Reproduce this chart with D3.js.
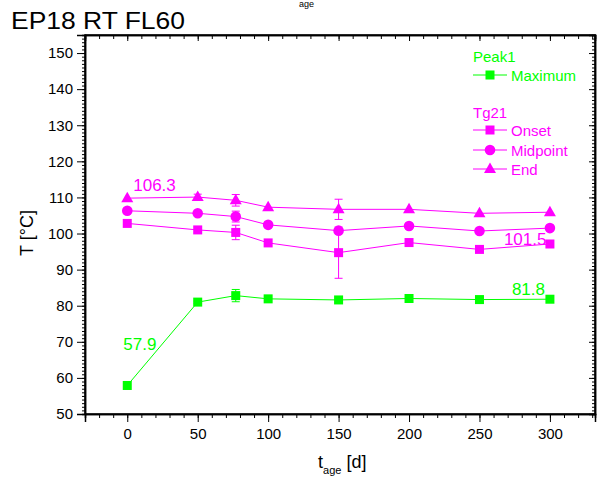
<!DOCTYPE html>
<html><head><meta charset="utf-8">
<script src="https://cdn.jsdelivr.net/npm/d3@7"></script>
<style>body{margin:0;background:#fff}svg{display:block;font-family:"Liberation Sans",Arial,sans-serif}</style>
</head><body>
<svg id="c" width="600" height="477"></svg>
<script>
const days = [0, 50, 77, 100, 150, 200, 250, 300];
const maximum = [57.9, 81.0, 82.8, 81.9, 81.6, 82.0, 81.7, 81.8];
const maximumErr = [0, 0.3, 1.7, 0, 0, 0, 0, 0];
const onset = [102.8, 101.0, 100.3, 97.4, 94.7, 97.5, 95.6, 97.1];
const onsetErr = [0, 0, 2.0, 0, 7.1, 0, 0, 0];
const midpoint = [106.3, 105.6, 104.7, 102.4, 100.8, 102.1, 100.7, 101.5];
const midpointErr = [0, 0, 1.5, 0, 0, 0, 0, 0];
const endVals = [109.8, 110.1, 109.2, 107.3, 106.7, 106.7, 105.6, 105.9];
const endErr = [0, 0.8, 1.6, 0, 2.8, 0, 0, 0];
const xTicks = [0, 50, 100, 150, 200, 250, 300];
const yTicks = [50, 60, 70, 80, 90, 100, 110, 120, 130, 140, 150];

const GREEN = "#00ff00", MAG = "#ff00ff";
const L = 85, R = 595, T = 35, B = 414;
const svg = d3.select("#c");
const x = d3.scaleLinear().domain([-30, 332]).range([L, R]);
const y = d3.scaleLinear().domain([50, 155]).range([B, T]);

// axes
const minorX = d3.range(-30, 331, 10);
const minorY = d3.range(50, 156, 1);
const bottom = d3.axisBottom(x).tickValues(xTicks).tickSize(8).tickFormat(d3.format("d"));
svg.append("g").attr("transform", `translate(0,${B})`).call(d3.axisBottom(x).tickValues(minorX).tickSize(4).tickFormat(""));
const gb = svg.append("g").attr("transform", `translate(0,${B})`).call(bottom);
gb.selectAll("text").attr("font-size", 15).attr("dy", "0.9em").attr("y", 11);
svg.append("g").attr("transform", `translate(0,${T})`).call(d3.axisBottom(x).tickValues(minorX).tickSize(4).tickFormat(""));
svg.append("g").attr("transform", `translate(0,${T})`).call(d3.axisBottom(x).tickValues(xTicks).tickSize(6).tickFormat(""));
svg.append("g").attr("transform", `translate(${L},0)`).call(d3.axisLeft(y).tickValues(minorY).tickSize(3).tickFormat(""));
const gl = svg.append("g").attr("transform", `translate(${L},0)`).call(d3.axisLeft(y).tickValues(yTicks).tickSize(8).tickFormat(d3.format("d")));
gl.selectAll("text").attr("font-size", 15).attr("x", -12);
svg.append("g").attr("transform", `translate(${R},0)`).call(d3.axisLeft(y).tickValues(minorY).tickSize(3).tickFormat(""));
svg.append("g").attr("transform", `translate(${R},0)`).call(d3.axisLeft(y).tickValues(yTicks).tickSize(6).tickFormat(""));
svg.selectAll(".domain").attr("stroke", "#000").attr("stroke-width", 1.5);
svg.selectAll(".tick line").attr("stroke", "#000");
svg.selectAll(".tick text").attr("fill", "#000");
svg.append("rect").attr("x", L).attr("y", T).attr("width", R - L).attr("height", B - T)
  .attr("fill", "none").attr("stroke", "#000").attr("stroke-width", 1.5);

// markers
function marker(sel, shape, color) {
  if (shape === "square") sel.append("rect").attr("x", -4.5).attr("y", -4.5).attr("width", 9).attr("height", 9).attr("fill", color);
  else if (shape === "circle") sel.append("circle").attr("r", 5.3).attr("fill", color);
  else sel.append("path").attr("d", "M0,-6.5L6,4L-6,4Z").attr("fill", color);
}

const series = [
  {vals: maximum, err: maximumErr, color: GREEN, shape: "square"},
  {vals: onset, err: onsetErr, color: MAG, shape: "square"},
  {vals: midpoint, err: midpointErr, color: MAG, shape: "circle"},
  {vals: endVals, err: endErr, color: MAG, shape: "triangle"}
];
const line = d3.line().x(d => x(d[0])).y(d => y(d[1]));
series.forEach(s => {
  const pts = days.map((d, i) => [d, s.vals[i], s.err[i]]);
  svg.append("path").attr("d", line(pts)).attr("fill", "none").attr("stroke", s.color).attr("stroke-width", 1);
  const eb = svg.append("g").selectAll("g").data(pts.filter(p => p[2] > 0)).join("g").attr("stroke", s.color).attr("stroke-width", 1);
  eb.append("line").attr("x1", p => x(p[0])).attr("x2", p => x(p[0])).attr("y1", p => y(p[1] - p[2])).attr("y2", p => y(p[1] + p[2]));
  eb.append("line").attr("x1", p => x(p[0]) - 4).attr("x2", p => x(p[0]) + 4).attr("y1", p => y(p[1] - p[2])).attr("y2", p => y(p[1] - p[2]));
  eb.append("line").attr("x1", p => x(p[0]) - 4).attr("x2", p => x(p[0]) + 4).attr("y1", p => y(p[1] + p[2])).attr("y2", p => y(p[1] + p[2]));
  svg.append("g").selectAll("g").data(pts).join("g")
    .attr("transform", p => `translate(${x(p[0])},${y(p[1])})`)
    .each(function() { marker(d3.select(this), s.shape, s.color); });
});

// value annotations
const ann = [
  {t: "106.3", xv: days[0], yv: midpoint[0], dx: 6, dy: -20, c: MAG},
  {t: "101.5", xv: days[7], yv: midpoint[7], dx: -46, dy: 17, c: MAG},
  {t: "81.8", xv: days[7], yv: maximum[7], dx: -38, dy: -4, c: GREEN},
  {t: "57.9", xv: days[0], yv: maximum[0], dx: -4, dy: -35, c: GREEN}
];
svg.selectAll(".ann").data(ann).join("text").attr("class", "ann")
  .attr("x", a => x(a.xv) + a.dx).attr("y", a => y(a.yv) + a.dy)
  .attr("fill", a => a.c).attr("font-size", 17).text(a => a.t);

// legend
const lg = svg.append("g").attr("font-size", 15);
lg.append("text").attr("x", 473).attr("y", 62).attr("fill", GREEN).text("Peak1");
lg.append("text").attr("x", 473).attr("y", 118).attr("fill", MAG).text("Tg21");
const legRows = [
  {name: "Maximum", color: GREEN, shape: "square", y: 75},
  {name: "Onset", color: MAG, shape: "square", y: 130},
  {name: "Midpoint", color: MAG, shape: "circle", y: 150},
  {name: "End", color: MAG, shape: "triangle", y: 169}
];
legRows.forEach(r => {
  lg.append("line").attr("x1", 473).attr("x2", 507).attr("y1", r.y).attr("y2", r.y).attr("stroke", r.color);
  const g = lg.append("g").attr("transform", `translate(490,${r.y})`);
  marker(g, r.shape, r.color);
  lg.append("text").attr("x", 511).attr("y", r.y + 5.5).attr("fill", r.color).text(r.name);
});

// titles
svg.append("text").attr("x", 11).attr("y", 29).attr("font-size", 23).attr("textLength", 174)
  .attr("lengthAdjust", "spacingAndGlyphs").text("EP18 RT FL60");
svg.append("text").attr("transform", "translate(33,233) rotate(-90)").attr("text-anchor", "middle")
  .attr("font-size", 18).text("T [°C]");
const xl = svg.append("text").attr("x", 318).attr("y", 468).attr("font-size", 18);
xl.append("tspan").text("t");
xl.append("tspan").attr("font-size", 11).attr("dy", 6).text("age");
xl.append("tspan").attr("dy", -6).text(" [d]");
svg.append("text").attr("x", 299).attr("y", 7).attr("font-size", 9).text("age");
</script>
</body></html>
